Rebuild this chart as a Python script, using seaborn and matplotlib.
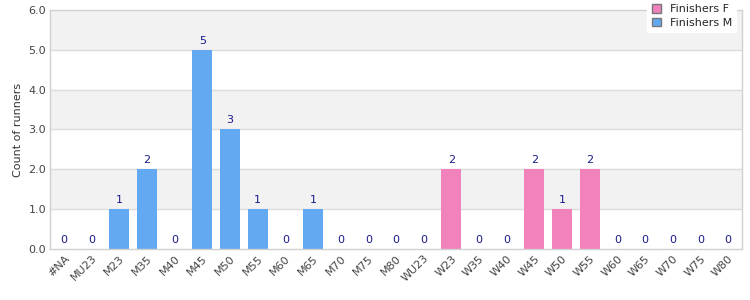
import matplotlib
matplotlib.use("Agg")
import matplotlib.pyplot as plt
import numpy as np
import pandas as pd
import seaborn as sns

categories = ["#NA", "MU23", "M23", "M35", "M40", "M45", "M50", "M55", "M60", "M65",
              "M70", "M75", "M80", "WU23", "W23", "W35", "W40", "W45", "W50", "W55",
              "W60", "W65", "W70", "W75", "W80"]
finishers_m = [0, 0, 1, 2, 0, 5, 3, 1, 0, 1, 0, 0, 0, 0, 0, 0, 0, 0, 0, 0, 0, 0, 0, 0, 0]
finishers_f = [0, 0, 0, 0, 0, 0, 0, 0, 0, 0, 0, 0, 0, 0, 2, 0, 0, 2, 1, 2, 0, 0, 0, 0, 0]
series_names = ["Finishers F", "Finishers M"]
series_colors = ["#f282bb", "#62a9f2"]

df = pd.concat([
    pd.DataFrame({"category": categories, "count": finishers_f, "series": "Finishers F"}),
    pd.DataFrame({"category": categories, "count": finishers_m, "series": "Finishers M"}),
])

sns.set_style("white")
plt.rcParams["font.family"] = ["DejaVu Sans"]

fig = plt.figure(figsize=(7.5, 3), dpi=100)
ax = fig.add_axes([0.067, 0.17, 0.922, 0.797])

# alternating bands
for lo in (1, 3, 5):
    ax.axhspan(lo, lo + 1, color="#f2f2f2", zorder=0)
for y in range(1, 6):
    ax.axhline(y, color="#dddddd", lw=1, zorder=0.5)

sns.barplot(data=df, x="category", y="count", hue="series", hue_order=series_names,
            palette=series_colors, dodge=False, width=0.72, saturation=1,
            order=categories, linewidth=0, ax=ax, zorder=2)

totals = np.array(finishers_m) + np.array(finishers_f)
for i, v in enumerate(totals):
    ax.text(i, v + 0.1, str(v), ha="center", va="bottom", fontsize=8, color="#1a1a8c")

ax.set_xlim(-0.5, len(categories) - 0.5)
ax.set_ylim(0, 6)
ax.set_yticks(range(7))
ax.set_yticklabels([f"{v:.1f}" for v in range(7)], fontsize=8, color="#444444")
ax.set_xticks(range(len(categories)))
ax.set_xticklabels(categories, rotation=45, ha="right", rotation_mode="anchor",
                   fontsize=8, color="#444444")
ax.tick_params(axis="both", length=0, pad=3)
ax.set_xlabel("")
ax.set_ylabel("Count of runners", fontsize=8, color="#333333")
for s in ax.spines.values():
    s.set_color("#d0d0d0")
    s.set_linewidth(1)

handles, labels = ax.get_legend_handles_labels()
for h in handles:
    h.set_edgecolor("#777777")
    h.set_linewidth(1)
leg = ax.legend(handles, labels, loc="upper right", bbox_to_anchor=(1.0, 1.065),
                fontsize=8, frameon=True, fancybox=False, handlelength=0.8,
                handleheight=0.8, borderpad=0.4, labelspacing=0.3)
leg.get_frame().set_facecolor("white")
leg.get_frame().set_edgecolor("white")
leg.get_frame().set_alpha(1)

fig.savefig("out.png", dpi=100)
